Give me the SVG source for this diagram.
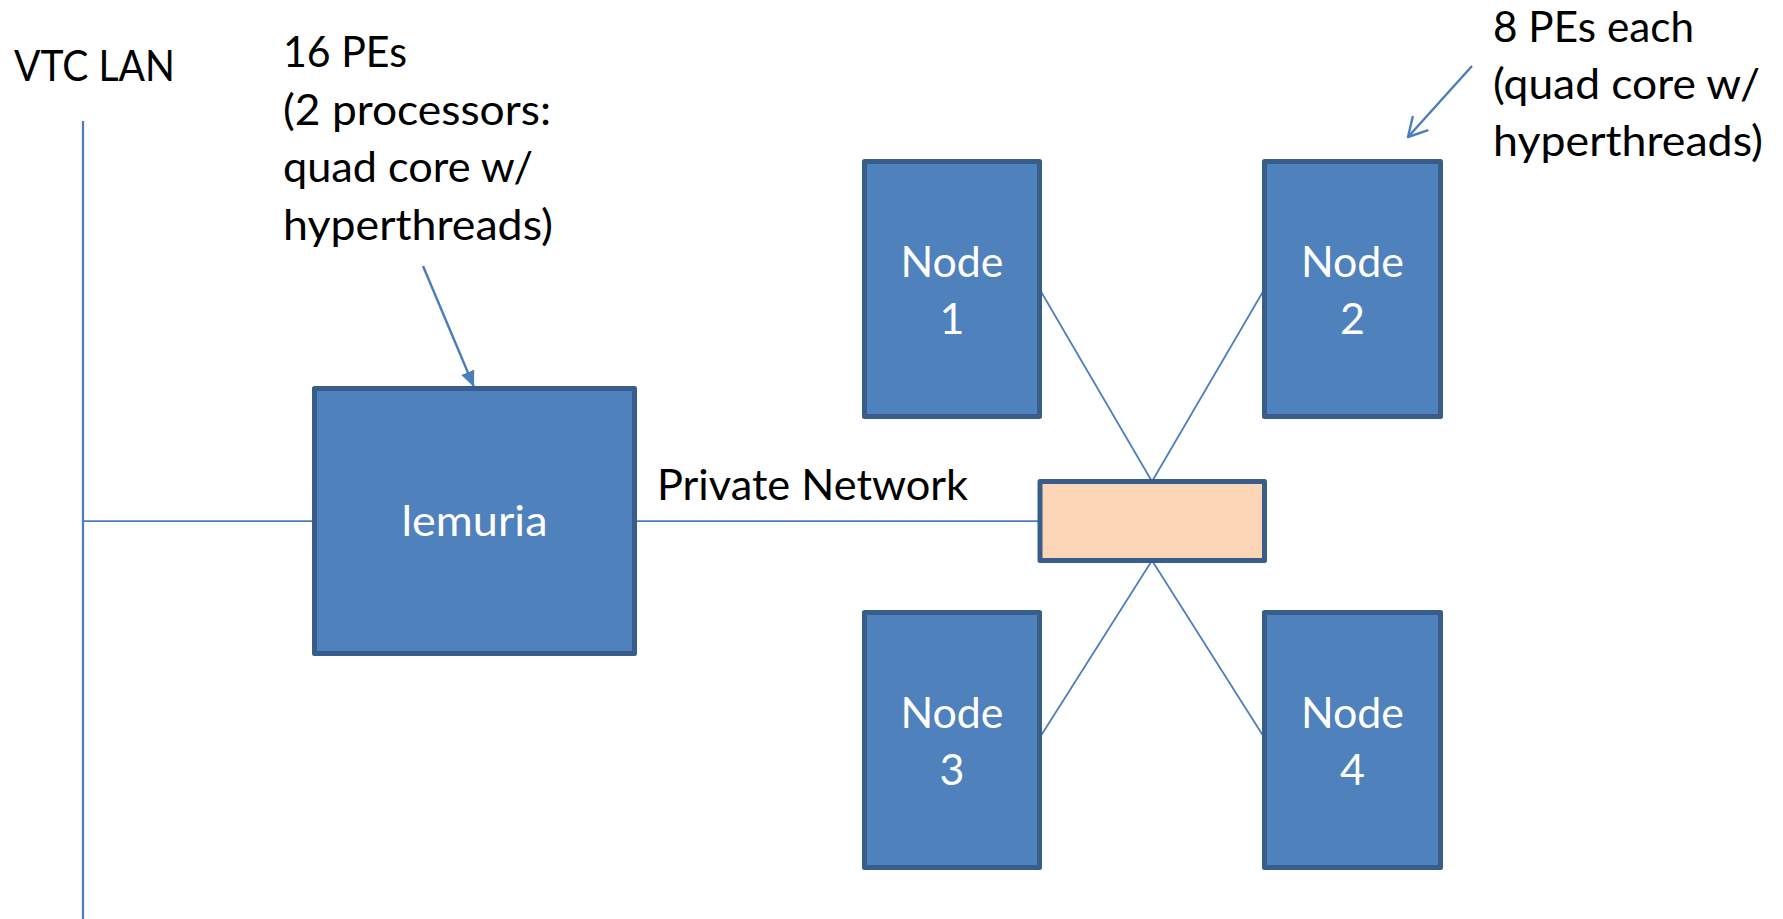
<svg xmlns="http://www.w3.org/2000/svg" width="1783" height="919" viewBox="0 0 1783 919">
  <defs>
    <style>
      .box { fill: #4F81BD; stroke: #385D8A; stroke-width: 5; stroke-linejoin: round; }
      .switch { fill: #FBD5B5; stroke: #385D8A; stroke-width: 5; stroke-linejoin: round; }
      .wire { stroke: #4A7EBB; stroke-width: 1.75; fill: none; }
      .lan { stroke: #4A7EBB; stroke-width: 2.2; fill: none; }
      .pointer { stroke: #4A7EBB; stroke-width: 2.4; fill: none; }
      .label { font-family: Lato, "Open Sans", "Liberation Sans", sans-serif; font-size: 43px; fill: #000000; }
      .inner { font-family: Lato, "Open Sans", "Liberation Sans", sans-serif; font-size: 43px; fill: #FFFFFF; text-anchor: middle; }
    </style>
    <marker id="solidHead" markerUnits="userSpaceOnUse" markerWidth="18" markerHeight="16" refX="16" refY="7" orient="auto">
      <path d="M0,0 L16,7 L0,14 z" fill="#4A7EBB"/>
    </marker>
    <marker id="openHead" markerUnits="userSpaceOnUse" markerWidth="24" markerHeight="24" refX="19" refY="11" orient="auto">
      <path d="M1,1 L19,11 L1,21" fill="none" stroke="#4A7EBB" stroke-width="2.4" stroke-linecap="round" stroke-linejoin="round"/>
    </marker>
  </defs>

  <!-- network wiring -->
  <g id="connectors">
    <line class="lan" x1="83" y1="121" x2="83" y2="919"/>
    <line class="wire" x1="83" y1="521" x2="314.5" y2="521"/>
    <line class="wire" x1="634.5" y1="521" x2="1040" y2="521"/>
    <line class="wire" x1="1152" y1="481.5" x2="1039.5" y2="289"/>
    <line class="wire" x1="1152" y1="481.5" x2="1264.5" y2="289"/>
    <line class="wire" x1="1152" y1="560.5" x2="1039.5" y2="738"/>
    <line class="wire" x1="1152" y1="560.5" x2="1264.5" y2="738"/>
    <line class="pointer" x1="423" y1="266" x2="474" y2="387" marker-end="url(#solidHead)"/>
    <line class="pointer" x1="1472" y1="66" x2="1408" y2="137" marker-end="url(#openHead)"/>
  </g>

  <g id="vtc-lan">
    <text class="label" x="14" y="81" textLength="161" lengthAdjust="spacingAndGlyphs">VTC LAN</text>
  </g>

  <g id="head-note">
    <text class="label" x="283" y="67" textLength="124" lengthAdjust="spacingAndGlyphs">16 PEs</text>
    <text class="label" x="283" y="124.5" textLength="268" lengthAdjust="spacingAndGlyphs">(2 processors:</text>
    <text class="label" x="283" y="182" textLength="250" lengthAdjust="spacingAndGlyphs">quad core w/</text>
    <text class="label" x="283" y="239.5" textLength="270" lengthAdjust="spacingAndGlyphs">hyperthreads)</text>
  </g>

  <g id="node-note">
    <text class="label" x="1493" y="42" textLength="201" lengthAdjust="spacingAndGlyphs">8 PEs each</text>
    <text class="label" x="1493" y="99" textLength="267" lengthAdjust="spacingAndGlyphs">(quad core w/</text>
    <text class="label" x="1493" y="156" textLength="270" lengthAdjust="spacingAndGlyphs">hyperthreads)</text>
  </g>

  <g id="private-network-label">
    <text class="label" x="657" y="500" textLength="311" lengthAdjust="spacingAndGlyphs">Private Network</text>
  </g>

  <g id="lemuria">
    <rect class="box" x="314.5" y="388.5" width="320" height="265"/>
    <text class="inner" x="474.5" y="536" textLength="146" lengthAdjust="spacingAndGlyphs">lemuria</text>
  </g>

  <g id="switch">
    <rect class="switch" x="1040" y="481.5" width="224.5" height="79"/>
  </g>

  <g id="node1">
    <rect class="box" x="864.5" y="161.5" width="175" height="255"/>
    <text class="inner" x="952" y="276.5" textLength="103" lengthAdjust="spacingAndGlyphs">Node</text>
    <text class="inner" x="952" y="334">1</text>
  </g>

  <g id="node2">
    <rect class="box" x="1264.5" y="161.5" width="176" height="255"/>
    <text class="inner" x="1352.5" y="276.5" textLength="103" lengthAdjust="spacingAndGlyphs">Node</text>
    <text class="inner" x="1352.5" y="334">2</text>
  </g>

  <g id="node3">
    <rect class="box" x="864.5" y="612.5" width="175" height="255"/>
    <text class="inner" x="952" y="727.5" textLength="103" lengthAdjust="spacingAndGlyphs">Node</text>
    <text class="inner" x="952" y="785">3</text>
  </g>

  <g id="node4">
    <rect class="box" x="1264.5" y="612.5" width="176" height="255"/>
    <text class="inner" x="1352.5" y="727.5" textLength="103" lengthAdjust="spacingAndGlyphs">Node</text>
    <text class="inner" x="1352.5" y="785">4</text>
  </g>
</svg>
